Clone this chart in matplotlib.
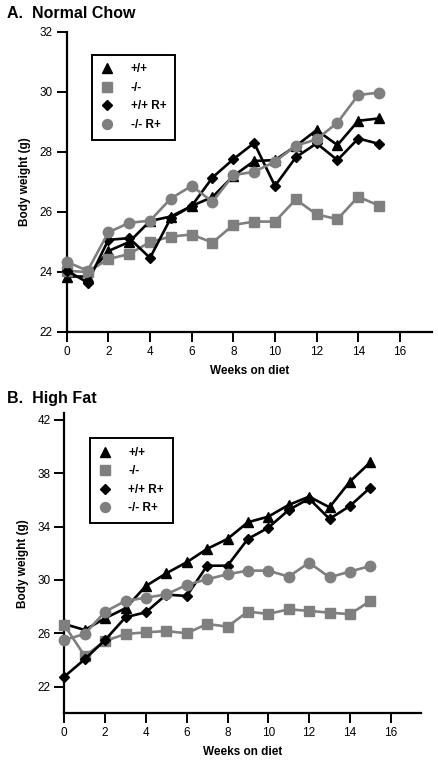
import matplotlib
matplotlib.use("Agg")
import matplotlib.pyplot as plt
from matplotlib.lines import Line2D

weeks = list(range(16))
labels = ["+/+", "-/-", "+/+ R+", "-/- R+"]

# A. Normal chow
chow_wt = [23.85, 23.85, 24.7, 25.0, 25.7, 25.85, 26.2, 26.5, 27.2, 27.7, 27.73, 28.2, 28.73, 28.23, 29.04, 29.12]
chow_ko = [24.04, 24.0, 24.43, 24.6, 25.0, 25.18, 25.25, 24.98, 25.57, 25.68, 25.68, 26.42, 25.92, 25.76, 26.51, 26.21]
chow_wt_r = [24.05, 23.65, 25.07, 25.13, 24.47, 25.8, 26.2, 27.15, 27.76, 28.3, 26.87, 27.82, 28.29, 27.73, 28.45, 28.27]
chow_ko_r = [24.34, 24.04, 25.32, 25.64, 25.71, 26.45, 26.87, 26.34, 27.23, 27.34, 27.68, 28.21, 28.42, 28.98, 29.9, 29.98]

# B. High fat
hf_wt = [26.7, 26.25, 27.13, 27.88, 29.55, 30.5, 31.33, 32.33, 33.08, 34.33, 34.75, 35.63, 36.25, 35.45, 37.38, 38.83]
hf_ko = [26.62, 24.3, 25.42, 25.95, 26.07, 26.17, 26.0, 26.7, 26.5, 27.63, 27.45, 27.8, 27.68, 27.55, 27.43, 28.43]
hf_wt_r = [22.75, 24.05, 25.5, 27.2, 27.58, 28.9, 28.8, 31.07, 31.07, 33.08, 33.92, 35.25, 36.1, 34.58, 35.55, 36.93]
hf_ko_r = [25.5, 25.95, 27.62, 28.43, 28.67, 28.92, 29.63, 30.05, 30.43, 30.7, 30.7, 30.25, 31.3, 30.2, 30.63, 31.05]

GRAY = "#7f7f7f"
styles = [
    dict(color="black", marker="^", ms=7),
    dict(color=GRAY, marker="s", ms=7),
    dict(color="black", marker="D", ms=5),
    dict(color=GRAY, marker="o", ms=7.5),
]

plt.rcParams["font.family"] = ["Liberation Sans", "DejaVu Sans"]

fig = plt.figure(figsize=(4.39, 7.65), dpi=100)
W, H = 439, 765


def px_axes(left, top, right, bottom):
    return fig.add_axes([left / W, 1 - bottom / H, (right - left) / W, (bottom - top) / H])


def style_axes(ax, xlim, ylim, yticks):
    ax.set_xlim(*xlim)
    ax.set_ylim(*ylim)
    ax.set_xticks(range(0, 17, 2))
    ax.set_yticks(yticks)
    for s in ["top", "right"]:
        ax.spines[s].set_visible(False)
    for s in ["left", "bottom"]:
        ax.spines[s].set_linewidth(1.6)
    ax.tick_params(direction="out", length=7, width=1.4, labelsize=8.5, pad=3)
    ax.set_xlabel("Weeks on diet", fontsize=8.5, fontweight="bold", labelpad=5)
    ax.set_ylabel("Body weight (g)", fontsize=8.5, fontweight="bold", labelpad=6)


def draw(ax, series, anchor):
    for vals, st in zip(series, styles):
        ax.plot(weeks, vals, lw=1.9, clip_on=False, zorder=3,
                color=st["color"], marker=st["marker"], markersize=st["ms"],
                markeredgecolor=st["color"])
    handles = [Line2D([], [], linestyle="none", color=st["color"], marker=st["marker"],
                      markersize=st["ms"] * 0.95) for st in styles]
    leg = ax.legend(handles, labels, loc="upper left", bbox_to_anchor=anchor,
                    borderaxespad=0, fancybox=False, edgecolor="black", fontsize=8.5,
                    handlelength=1.0, handletextpad=1.5, labelspacing=0.55,
                    borderpad=0.75, framealpha=1)
    leg.get_frame().set_linewidth(1.4)
    for t in leg.get_texts():
        t.set_fontweight("bold")


# Panel A
axA = px_axes(66.7, 32, 432, 332)
style_axes(axA, (0, 17.54), (22, 32), range(22, 33, 2))
draw(axA, [chow_wt, chow_ko, chow_wt_r, chow_ko_r], (0.07, 0.925))
fig.text(7 / W, 1 - 13 / H, "A.  Normal Chow", fontsize=11.5, fontweight="bold", va="center")

# Panel B
axB = px_axes(64.3, 413.3, 420.7, 713.3)
style_axes(axB, (0, 17.47), (20, 42.5), range(22, 43, 4))
draw(axB, [hf_wt, hf_ko, hf_wt_r, hf_ko_r], (0.072, 0.918))
fig.text(7 / W, 1 - 398 / H, "B.  High Fat", fontsize=11.5, fontweight="bold", va="center")

fig.savefig("out.png", dpi=100)
